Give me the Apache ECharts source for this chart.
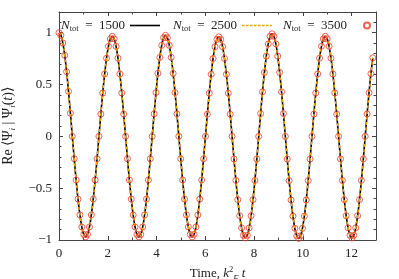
<!DOCTYPE html>
<html>
<head>
<meta charset="utf-8">
<script src="https://cdn.jsdelivr.net/npm/echarts@6/dist/echarts.min.js"></script>
<style>
html,body{margin:0;padding:0;background:#fff;}
#c{width:399px;height:279px;}
</style>
</head>
<body>
<div id="c"></div>
<script>
// Time samples, k_F^2 t
var times = [0,0.078,0.156,0.234,0.312,0.39,0.468,0.546,0.624,0.702,0.78,0.858,0.936,1.014,1.092,1.17,1.248,1.326,1.404,1.482,1.56,1.638,1.716,1.794,1.872,1.95,2.028,2.106,2.184,2.262,2.34,2.418,2.496,2.574,2.652,2.73,2.808,2.886,2.964,3.042,3.12,3.198,3.276,3.354,3.432,3.51,3.588,3.666,3.744,3.822,3.9,3.978,4.056,4.134,4.212,4.29,4.368,4.446,4.524,4.602,4.68,4.758,4.836,4.914,4.992,5.07,5.148,5.226,5.304,5.382,5.46,5.538,5.616,5.694,5.772,5.85,5.928,6.006,6.084,6.162,6.24,6.318,6.396,6.474,6.552,6.63,6.708,6.786,6.864,6.942,7.02,7.098,7.176,7.254,7.332,7.41,7.488,7.566,7.644,7.722,7.8,7.878,7.956,8.034,8.112,8.19,8.268,8.346,8.424,8.502,8.58,8.658,8.736,8.814,8.892,8.97,9.048,9.126,9.204,9.282,9.36,9.438,9.516,9.594,9.672,9.75,9.828,9.906,9.984,10.062,10.14,10.218,10.296,10.374,10.452,10.53,10.608,10.686,10.764,10.842,10.92,10.998,11.076,11.154,11.232,11.31,11.388,11.466,11.544,11.622,11.7,11.778,11.856,11.934,12.012,12.09,12.168,12.246,12.324,12.402,12.48,12.558,12.636,12.714,12.792,12.87];

// Re <Psi_i|Psi_i(t)> (the three N_tot runs coincide)
var overlap = [
1,0.975,0.901,0.782,0.624,0.434,0.223,0,
-0.216,-0.421,-0.605,-0.758,-0.874,-0.946,-0.970,-0.946,-0.874,-0.758,-0.605,-0.421,-0.216,0,
0.215,0.419,0.602,0.754,0.869,0.941,0.965,0.941,0.869,0.754,0.602,0.419,0.215,0,
-0.216,-0.421,-0.605,-0.758,-0.874,-0.946,-0.970,-0.946,-0.874,-0.758,-0.605,-0.421,-0.216,0,
0.217,0.423,0.608,0.762,0.878,0.951,0.975,0.951,0.878,0.762,0.608,0.423,0.217,0,
-0.216,-0.421,-0.605,-0.758,-0.874,-0.946,-0.970,-0.946,-0.874,-0.758,-0.605,-0.421,-0.216,0,
0.214,0.417,0.599,0.751,0.865,0.936,0.960,0.936,0.865,0.751,0.599,0.417,0.214,0,
-0.218,-0.425,-0.611,-0.766,-0.883,-0.955,-0.980,-0.955,-0.883,-0.766,-0.611,-0.425,-0.218,0,
0.220,0.430,0.617,0.774,0.892,0.965,0.990,0.965,0.892,0.774,0.617,0.430,0.220,0,
-0.219,-0.427,-0.614,-0.770,-0.887,-0.960,-0.985,-0.960,-0.887,-0.770,-0.614,-0.427,-0.219,0,
0.215,0.419,0.602,0.754,0.869,0.941,0.965,0.941,0.869,0.754,0.602,0.419,0.215,0,
-0.218,-0.425,-0.611,-0.766,-0.883,-0.955,-0.980,-0.955,-0.883,-0.766,-0.611,-0.425,-0.218,0,
0.216,0.421,0.605,0.758
];

var seriesNames = ['1500', '2500', '3500'];
var xTicks = [0, 2, 4, 6, 8, 10, 12];
var yTicks = [-1, -0.5, 0, 0.5, 1];

var pts = times.map(function (t, i) { return [t, overlap[i]]; });

var FONT = 'Liberation Serif';
var AX = '#444';
var rich = {
  n: {fontFamily: FONT, fontSize: 13, fontStyle: 'italic', color: '#222', lineHeight: 16},
  s: {fontFamily: FONT, fontSize: 8.5, color: '#222', lineHeight: 9, verticalAlign: 'bottom'},
  e: {fontFamily: FONT, fontSize: 13, color: '#222', lineHeight: 16}
};
var DASH_ICON = 'path://M0,0h2.6v1.5h-2.6zM4,0h2.6v1.5h-2.6zM8,0h2.6v1.5h-2.6zM12,0h2.6v1.5h-2.6zM16,0h2.6v1.5h-2.6zM20,0h2.6v1.5h-2.6zM24,0h2.6v1.5h-2.6zM28,0h2v1.5h-2z';
function legendFmt(name) { return '{n|N}{s|tot}{e|  =  ' + name + '}'; }
function mkLegend(name, left, icon, h) {
  return {
    data: [{name: name, icon: icon}], left: left, top: 19, align: 'right', itemWidth: 30, itemHeight: h,
    padding: 0, formatter: legendFmt, textStyle: {rich: rich}, selectedMode: false
  };
}

function xAx(pos, interval, len, labels, line) {
  return {
    type: 'value', position: pos, min: 0, max: 13, interval: interval,
    axisLine: {show: line, onZero: false, lineStyle: {color: AX, width: 1}},
    axisTick: {show: true, inside: true, length: len, lineStyle: {color: AX, width: 1}},
    axisLabel: {show: labels, margin: 7, fontFamily: FONT, fontSize: 13, color: '#222',
      formatter: function (v) { return xTicks.indexOf(v) >= 0 ? String(v) : ''; }},
    splitLine: {show: false}
  };
}
function yAx(pos, interval, len, labels, line) {
  return {
    type: 'value', position: pos, min: -1, max: 1.2, interval: interval,
    axisLine: {show: line, onZero: false, lineStyle: {color: AX, width: 1}},
    axisTick: {show: true, inside: true, length: len, lineStyle: {color: AX, width: 1}},
    axisLabel: {show: labels, margin: 7, fontFamily: FONT, fontSize: 13, color: '#222',
      formatter: function (v) {
        var r = Math.round(v * 10) / 10;
        return yTicks.indexOf(r) >= 0 ? String(r).replace('-', '\u2212') : '';
      }},
    splitLine: {show: false}
  };
}

var xa = [xAx('bottom', 2, 4, true, true), xAx('bottom', 1, 2.5, false, false),
          xAx('top', 2, 4, false, true), xAx('top', 1, 2.5, false, false)];
xa[0].name = '{r|Time, }{i|k}{p|2}{b|F}{i| t}';
xa[0].nameLocation = 'middle';
xa[0].nameGap = 21;
xa[0].nameTextStyle = {rich: {
  r: {fontFamily: FONT, fontSize: 13, color: '#222', lineHeight: 18},
  i: {fontFamily: FONT, fontSize: 13, fontStyle: 'italic', color: '#222', lineHeight: 18},
  p: {fontFamily: FONT, fontSize: 8.5, color: '#222', lineHeight: 9, verticalAlign: 'top'},
  b: {fontFamily: FONT, fontSize: 8.5, fontStyle: 'italic', color: '#222', lineHeight: 9, verticalAlign: 'bottom'}
}};

var ya = [yAx('left', 0.5, 4, true, true), yAx('left', 0.1, 2.5, false, false),
          yAx('right', 0.5, 4, false, true), yAx('right', 0.1, 2.5, false, false)];
ya[0].name = '{r|Re \u27E8\u03A8}{b|i}{r| | \u03A8}{b|i}{r|(}{i|t}{r|)\u27E9}';
ya[0].nameLocation = 'middle';
ya[0].nameGap = 39;
ya[0].nameTextStyle = {rich: {
  r: {fontFamily: FONT, fontSize: 14, color: '#222', lineHeight: 18},
  i: {fontFamily: FONT, fontSize: 14, fontStyle: 'italic', color: '#222', lineHeight: 18},
  b: {fontFamily: FONT, fontSize: 9, fontStyle: 'italic', color: '#222', lineHeight: 10, verticalAlign: 'bottom'}
}};

var chart = echarts.init(document.getElementById('c'), null, {renderer: 'canvas'});
chart.setOption({
  animation: false,
  backgroundColor: '#fff',
  grid: {left: 59, right: 23, top: 12, bottom: 39, containLabel: false, outerBoundsMode: 'none'},
  xAxis: xa,
  yAxis: ya,
  legend: [mkLegend(seriesNames[0], 61, 'rect', 1.6), mkLegend(seriesNames[1], 173, DASH_ICON, 1.5),
           mkLegend(seriesNames[2], 283, 'circle', 6)],
  series: [
    {name: seriesNames[0], type: 'line', data: pts, showSymbol: false, symbol: 'none', smooth: true,
     lineStyle: {color: '#000', width: 1.6}, itemStyle: {color: '#000'}, z: 2},
    {name: seriesNames[1], type: 'line', data: pts, showSymbol: false, symbol: 'none', smooth: true,
     lineStyle: {color: '#f2a400', width: 1.5, type: [3, 2.5]}, itemStyle: {color: '#f2a400'}, z: 3},
    {name: seriesNames[2], type: 'scatter', data: pts, symbol: 'circle', symbolSize: 6,
     itemStyle: {color: 'rgba(0,0,0,0)', borderColor: '#ee3b2b', borderWidth: 1}, z: 4}
  ]
});
</script>
</body>
</html>
